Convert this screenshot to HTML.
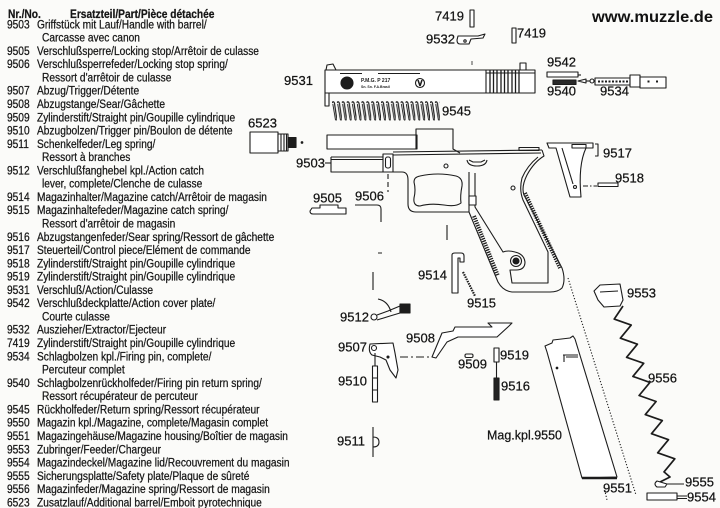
<!DOCTYPE html>
<html><head><meta charset="utf-8"><style>
html,body{margin:0;padding:0;background:#fbfbf9;}
svg{display:block;}
</style></head><body>
<svg width="720" height="508" viewBox="0 0 720 508" xmlns="http://www.w3.org/2000/svg">
<defs>
<pattern id="coil" x="332" y="101" width="4.9" height="20" patternUnits="userSpaceOnUse">
<path d="M0,2 Q1.2,-0.5 2.45,2 L4.9,19" stroke="#1e1e1e" stroke-width="1.2" fill="none"/>
<path d="M0.8,3 L3.4,18.5 Q4.2,20 4.9,18" stroke="#1e1e1e" stroke-width="0.9" fill="none"/>
</pattern>
</defs>
<rect width="720" height="508" fill="#fbfbf9"/>

<!-- LEFT PARTS LIST -->
<g font-family="'Liberation Sans', Arial, sans-serif" font-size="12" fill="#161616" stroke="#161616" stroke-width="0.25" transform="scale(0.85,1)">
<text x="9.4" y="18" font-weight="bold">Nr./No.</text>
<text x="82.4" y="18" font-weight="bold">Ersatzteil/Part/Pièce détachée</text>
<text x="8.2" y="28.3">9503</text><text x="43.5" y="28.3">Griffstück mit Lauf/Handle with barrel/</text>
<text x="49.4" y="41.6">Carcasse avec canon</text>
<text x="8.2" y="54.9">9505</text><text x="43.5" y="54.9">Verschlußsperre/Locking stop/Arrêtoir de culasse</text>
<text x="8.2" y="68.1">9506</text><text x="43.5" y="68.1">Verschlußsperrefeder/Locking stop spring/</text>
<text x="49.4" y="81.4">Ressort d'arrêtoir de culasse</text>
<text x="8.2" y="94.7">9507</text><text x="43.5" y="94.7">Abzug/Trigger/Détente</text>
<text x="8.2" y="108">9508</text><text x="43.5" y="108">Abzugstange/Sear/Gâchette</text>
<text x="8.2" y="121.3">9509</text><text x="43.5" y="121.3">Zylinderstift/Straight pin/Goupille cylindrique</text>
<text x="8.2" y="134.5">9510</text><text x="43.5" y="134.5">Abzugbolzen/Trigger pin/Boulon de détente</text>
<text x="8.2" y="147.8">9511</text><text x="43.5" y="147.8">Schenkelfeder/Leg spring/</text>
<text x="49.4" y="161.1">Ressort à branches</text>
<text x="8.2" y="174.4">9512</text><text x="43.5" y="174.4">Verschlußfanghebel kpl./Action catch</text>
<text x="49.4" y="187.7">lever, complete/Clenche de culasse</text>
<text x="8.2" y="200.9">9514</text><text x="43.5" y="200.9">Magazinhalter/Magazine catch/Arrêtoir de magasin</text>
<text x="8.2" y="214.2">9515</text><text x="43.5" y="214.2">Magazinhaltefeder/Magazine catch spring/</text>
<text x="49.4" y="227.5">Ressort d'arrêtoir de magasin</text>
<text x="8.2" y="240.8">9516</text><text x="43.5" y="240.8">Abzugstangenfeder/Sear spring/Ressort de gâchette</text>
<text x="8.2" y="254.1">9517</text><text x="43.5" y="254.1">Steuerteil/Control piece/Elément de commande</text>
<text x="8.2" y="267.3">9518</text><text x="43.5" y="267.3">Zylinderstift/Straight pin/Goupille cylindrique</text>
<text x="8.2" y="280.6">9519</text><text x="43.5" y="280.6">Zylinderstift/Straight pin/Goupille cylindrique</text>
<text x="8.2" y="293.9">9531</text><text x="43.5" y="293.9">Verschluß/Action/Culasse</text>
<text x="8.2" y="307.2">9542</text><text x="43.5" y="307.2">Verschlußdeckplatte/Action cover plate/</text>
<text x="49.4" y="320.5">Courte culasse</text>
<text x="8.2" y="333.7">9532</text><text x="43.5" y="333.7">Auszieher/Extractor/Ejecteur</text>
<text x="8.2" y="347">7419</text><text x="43.5" y="347">Zylinderstift/Straight pin/Goupille cylindrique</text>
<text x="8.2" y="360.3">9534</text><text x="43.5" y="360.3">Schlagbolzen kpl./Firing pin, complete/</text>
<text x="49.4" y="373.6">Percuteur complet</text>
<text x="8.2" y="386.9">9540</text><text x="43.5" y="386.9">Schlagbolzenrückholfeder/Firing pin return spring/</text>
<text x="49.4" y="400.1">Ressort récupérateur de percuteur</text>
<text x="8.2" y="413.4">9545</text><text x="43.5" y="413.4">Rückholfeder/Return spring/Ressort récupérateur</text>
<text x="8.2" y="426.7">9550</text><text x="43.5" y="426.7">Magazin kpl./Magazine, complete/Magasin complet</text>
<text x="8.2" y="440">9551</text><text x="43.5" y="440">Magazingehäuse/Magazine housing/Boîtier de magasin</text>
<text x="8.2" y="453.3">9553</text><text x="43.5" y="453.3">Zubringer/Feeder/Chargeur</text>
<text x="8.2" y="466.5">9554</text><text x="43.5" y="466.5">Magazindeckel/Magazine lid/Recouvrement du magasin</text>
<text x="8.2" y="479.8">9555</text><text x="43.5" y="479.8">Sicherungsplatte/Safety plate/Plaque de sûreté</text>
<text x="8.2" y="493.1">9556</text><text x="43.5" y="493.1">Magazinfeder/Magazine spring/Ressort de magasin</text>
<text x="8.2" y="506.4">6523</text><text x="43.5" y="506.4">Zusatzlauf/Additional barrel/Emboit pyrotechnique</text>
</g>

<!-- watermark -->
<text x="592" y="22" font-family="'Liberation Sans', Arial, sans-serif" font-size="16" font-weight="bold" fill="#111" textLength="121" lengthAdjust="spacingAndGlyphs">www.muzzle.de</text>

<!-- DIAGRAM LABELS -->
<g font-family="'Liberation Sans', Arial, sans-serif" font-size="13" fill="#141414" stroke="#141414" stroke-width="0.25">
<text x="435" y="20.6">7419</text>
<text x="426" y="43.6">9532</text>
<text x="517" y="37.6">7419</text>
<text x="284" y="85">9531</text>
<text x="442" y="115.6">9545</text>
<text x="547" y="66.6">9542</text>
<text x="547" y="95.6">9540</text>
<text x="600" y="95.6">9534</text>
<text x="248" y="127.6">6523</text>
<text x="296" y="167.6">9503</text>
<text x="603" y="157.6">9517</text>
<text x="615" y="182.6">9518</text>
<text x="313" y="202.6">9505</text>
<text x="355" y="200.6">9506</text>
<text x="418" y="279.6">9514</text>
<text x="467" y="307.6">9515</text>
<text x="340" y="321.6">9512</text>
<text x="406" y="342.6">9508</text>
<text x="338" y="351.6">9507</text>
<text x="338" y="385.6">9510</text>
<text x="458" y="368.6">9509</text>
<text x="500" y="359.6">9519</text>
<text x="501" y="390.6">9516</text>
<text x="337" y="445.6">9511</text>
<text x="487" y="439.6" textLength="75" lengthAdjust="spacingAndGlyphs">Mag.kpl.9550</text>
<text x="627" y="297.6">9553</text>
<text x="648" y="382.6">9556</text>
<text x="603" y="492.6">9551</text>
<text x="685" y="486.6">9555</text>
<text x="687" y="501.6">9554</text>
</g>

<g stroke="#1c1c1c" stroke-width="1.1" fill="none" stroke-linejoin="round">
<!-- pins 7419 -->
<rect x="470" y="10" width="4" height="17" fill="#fff"/>
<rect x="512" y="28" width="4" height="15" fill="#fff"/>
<!-- extractor 9532 -->
<path d="M458,36 L478,36 L485,34 L483,38 L471,39 L469,44 L460,44 Q457,44 457,40 Z" fill="#fff"/>
<circle cx="465" cy="41" r="1.2"/>

<!-- slide 9531 -->
<path d="M326,70 L327,65 L333,64 L336,70"/>
<path d="M325,70 H535 V93 H325 Z" fill="#fff"/>
<rect x="325" y="93" width="4" height="13" fill="#fff"/>
<rect x="520" y="63" width="6" height="7" fill="#fff"/>
<path d="M340,73.5 H362 M378,73.5 H420 M486,73 H535 M486,70 V93"/>
<path d="M490,70 V93 M493.5,70 V93 M497,70 V93 M501,70 V93 M504.5,70 V93 M508,70 V93 M512,70 V93 M515.5,70 V93 M519,70 V93" stroke-width="1.3"/>
<path d="M472,61 V65" stroke-width="0.8"/>
<circle cx="347" cy="83" r="6" fill="#1c1c1c"/>
<circle cx="420" cy="83" r="4.5" fill="#fff"/>
<path d="M418,80 L420,86 M422,80 L420,86" stroke-width="1.5"/>

<!-- recoil spring 9545 -->
<rect x="332" y="101" width="108" height="20" fill="url(#coil)" stroke="none"/>

<!-- 9542 / 9540 -->
<rect x="547" y="72" width="31" height="5" fill="#fff"/>
<path d="M578,75 H581"/>
<rect x="553" y="80" width="23" height="4.5" fill="#2a2a2a"/>

<!-- firing pin 9534 -->
<path d="M578,81 L586,79 L586,83 Z" fill="#fff"/>
<path d="M586,81 H590"/>
<circle cx="592" cy="81" r="2" fill="#fff"/>
<rect x="595" y="78" width="35" height="7" fill="#fff"/>
<path d="M598,81.5 H628" stroke-width="2" stroke-dasharray="2 1.5"/>
<rect x="630" y="75" width="10" height="12" fill="#fff"/>
<rect x="640" y="77" width="26" height="11" fill="#fff"/>
<rect x="647.5" y="80.5" width="2" height="2" fill="#1c1c1c" stroke="none"/>
<rect x="656" y="80.5" width="2" height="2" fill="#1c1c1c" stroke="none"/>

<!-- additional barrel 6523 -->
<rect x="250" y="132" width="28" height="21" fill="#fff"/>
<rect x="278" y="134" width="10" height="17" fill="#fff"/>
<path d="M281,134 V151 M284,134 V151 M286.5,134 V151"/>
<rect x="288" y="137.5" width="8" height="10" fill="#1c1c1c"/>
<circle cx="302" cy="142.5" r="0.8" fill="#1c1c1c"/>

<!-- barrel assembly -->
<rect x="327" y="135" width="90" height="14" fill="#fff"/>
<path d="M416,149 V129 H453 V149 L460,153"/>

<!-- frame 9503 -->
<path d="M325,163 H331"/>
<path d="M331,157 H383 M331,159.5 H383 M331,157 V172 H383"/>
<rect x="383" y="154" width="10" height="18" fill="#fff"/>
<rect x="385.5" y="157" width="5" height="11" rx="2"/>
<path d="M393,152 L542,150 M393,155 L541,153"/>
<rect x="519" y="147.5" width="20" height="3"/>
<path d="M542,150 L544,156 Q534,162 527,175 Q521,187 524,195 L562,268 Q566,280 562,288 Q558,292 550,292 H512 Q503,291 498,282 L469,212 V172"/>
<path d="M393,172 H402 Q408,172 408,180 V204 Q408,212 416,212 H469"/>
<path d="M420,176 Q438,172 456,176 Q463,178 462,186 Q460,196 461,203 Q456,207 444,205 Q430,203 420,206 Q413,206 414,198 Q416,190 414,182 Q414,177 420,176 Z"/>
<circle cx="446" cy="166" r="2"/>
<path d="M467,160 Q468,166 477,166 Q486,166 487,160 M469,160 L473,162 L481,162 L485,160"/>
<path d="M475,173 V207 L503,252 Q508,250 515,252 Q524,254 525,262 Q525,270 516,270 H510 L512,283 H548 V252 L523,200 Q519,190 522,178 Q527,166 538,157"/>
<circle cx="516" cy="261" r="5.5" fill="#fff"/>
<circle cx="516" cy="261" r="3" fill="#1c1c1c"/>
<rect x="469" y="196" width="7" height="9" fill="#fff"/>
<circle cx="513" cy="188" r="2"/>
<path d="M474,216 L498,276" stroke-width="4" stroke-dasharray="1.3 1.1"/>
<path d="M525,193 L560,268" stroke-width="4" stroke-dasharray="1.3 1.1"/>
<path d="M388,174 V192" stroke-dasharray="5 3"/>

<!-- 9505 / 9506 -->
<path d="M312,208 H320 V205 H338 V208 H346 V214 H313 Q310,214 310,211 Z" fill="#fff"/>
<path d="M355,205 H377 Q381,205 381,209 V222"/>

<!-- leaders -->
<path d="M447,225 V240 M373,272 V290 M378,253 H382"/>

<!-- 9514 -->
<path d="M452,293 V255 Q452,253 455,253 H461 Q464,253 464,256 V262 H460 V258 H458 V293 Z" fill="#fff"/>
<!-- 9515 -->
<path d="M463,272 L475,296" stroke-width="2.2" stroke-dasharray="1.5 1"/>

<!-- 9512 -->
<circle cx="374" cy="317" r="3" fill="#fff"/>
<path d="M377,315 L388,311 L400,306 L400,313 L390,316 L377,320"/>
<rect x="400" y="304" width="10" height="9" fill="#1c1c1c"/>
<path d="M378,299 Q388,301 391,312"/>

<!-- 9508 sear -->
<path d="M432,357 L442,333 L453,331 L455,327 H492 L488,323 H512 L509,326 L497,337 H458 L447,342 L436,358 Z" fill="#fff"/>

<!-- 9507 trigger -->
<path d="M370,344 L393,343 L395,353 L398,370 L396,378 L390,370 L386,360 L380,357 L372,355 Q368,352 370,344 Z" fill="#fff"/>
<circle cx="374" cy="348" r="2.5"/>
<circle cx="388" cy="357" r="1" fill="#1c1c1c"/>
<path d="M400,357 H430" stroke-dasharray="8 3 2 3"/>

<!-- 9510 -->
<path d="M375,353 V366"/>
<rect x="372.5" y="366" width="5" height="36" fill="#fff"/>
<path d="M372.5,378 H377.5 M372.5,390 H377.5"/>

<!-- 9509 / 9519 / 9516 -->
<rect x="465" y="354" width="8" height="3.5" rx="1.5"/>
<rect x="494" y="348" width="5" height="14" fill="#fff"/>
<path d="M496.5,362 V378"/>
<rect x="494" y="378" width="5" height="22" fill="#222"/>

<!-- 9511 -->
<path d="M373,427 V457 M373,437 Q379,437 379,442 Q379,447 373,447"/>

<!-- magazine 9551 -->
<path d="M545,346 L552,343 L553,340 L570,338 L573,336 L575,339 L617,477 L582,478 L547,352 Z" fill="#fff"/>
<path d="M582,478 H617" stroke-width="2.5"/>
<path d="M563,355 H578 M564,355 V362 M566,357 H578"/>
<circle cx="557" cy="368" r="0.8" fill="#1c1c1c"/>
<path d="M568,278 L636,495" stroke-dasharray="1.2 1.8"/>
<path d="M604,487 L607,500" stroke-dasharray="1.2 1.8"/>

<!-- feeder 9553 -->
<path d="M594,291 L600,285 L620,284 L623,300 L620,306 L604,307 L598,300 Z" fill="#fff"/>
<path d="M600,292 L618,291"/>

<!-- magazine spring 9556 -->
<path d="M623,306 L614.2,319.1 L631.2,325.1 L620.4,338.2 L637.4,344.2 L626.6,357.3 L643.7,363.3 L632.9,376.4 L649.9,382.4 L639.1,395.5 L656.1,401.5 L645.3,414.6 L662.3,420.6 L651.5,433.7 L668.5,439.7 L657.7,452.8 L674.8,458.8 L664,471.9 L670,477 L660,482" stroke-width="1.7"/>

<!-- 9555 -->
<path d="M657,481 Q653,484 657,487 H665 L667,484 Z" fill="#fff"/>
<path d="M667,484 H684"/>
<!-- 9554 -->
<rect x="647" y="493" width="30" height="7" fill="#fff"/>
<path d="M677,496 H687 M677,498.5 H687"/>

<!-- 9517 control piece -->
<path d="M547,143 H593 V148 H586 Q578,165 581,197 H570 L556,148 H549 Z" fill="#fff"/>
<path d="M562,148 L573,184"/>
<rect x="572" y="144.5" width="14" height="3.5"/>
<circle cx="575" cy="187" r="1.5"/>
<path d="M595,144 H598 V156 H595"/>

<!-- 9518 -->
<rect x="598" y="183" width="20" height="3.5" fill="#fff"/>
<path d="M583,186 H597" stroke-dasharray="5 2 1.5 2"/>
</g>

<!-- slide engraving -->
<g font-family="'Liberation Sans', Arial, sans-serif" font-weight="bold" fill="#1c1c1c">
<text x="361" y="82" font-size="5">P.M.G.  P 217</text>
<text x="361" y="88" font-size="3.5">Sn. Sn. F.A.Brasil</text>
</g>
</svg>
</body></html>
